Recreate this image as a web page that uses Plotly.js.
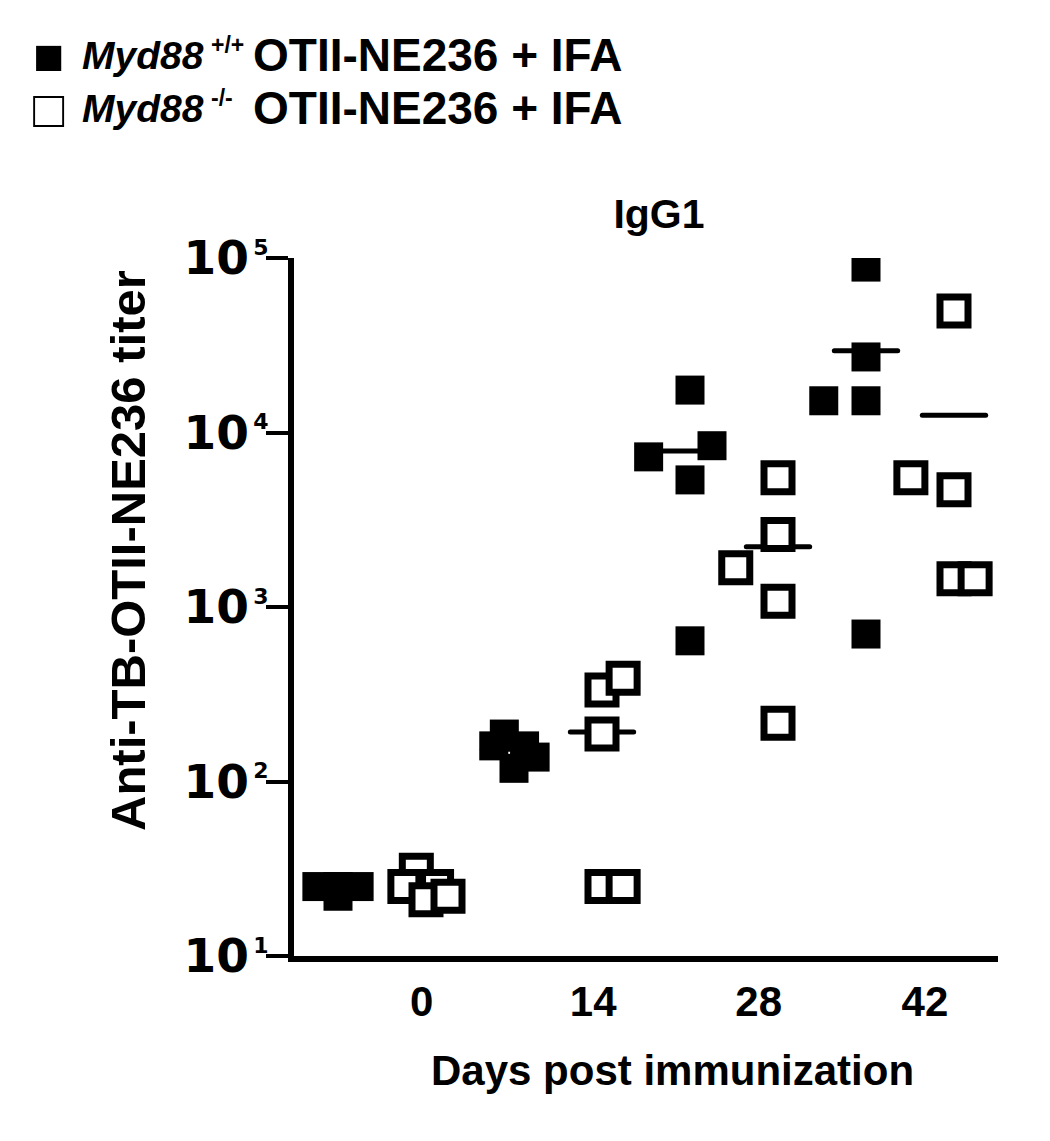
<!DOCTYPE html>
<html>
<head>
<meta charset="utf-8">
<script src="https://cdn.plot.ly/plotly-3.0.1.min.js"></script>
<style>
  html, body { margin: 0; padding: 0; background: #fff; }
  #chart { width: 1050px; height: 1141px; }
</style>
</head>
<body>
<div id="chart"></div>
<script>
// IgG1 titers, 5 mice per group
const days = [0, 14, 28, 42];
const wtTiter = [
  [25, 25, 25, 25, 22],
  [187, 160, 160, 138, 119],
  [17500, 7250, 8400, 5350, 640],
  [88700, 27100, 15200, 15200, 700],
];
const koTiter = [
  [31, 25, 25, 21, 22],
  [335, 390, 187, 25, 25],
  [5500, 2600, 1680, 1080, 216],
  [49700, 5500, 4700, 1450, 1450],
];
// sideways scatter of each point inside its column (column widths)
const wtJitter = [
  [-0.24, 0, 0.24, 0, 0],
  [-0.11, -0.23, 0.12, 0.24, 0],
  [0, -0.47, 0.25, 0, 0],
  [0, 0, -0.48, 0, 0],
];
const koJitter = [
  [-0.11, -0.24, 0.12, 0, 0.25],
  [0, 0.24, 0, 0, 0.24],
  [0, 0, -0.48, 0, 0],
  [0, -0.49, 0, 0, 0.24],
];
const yTickVals = [10, 100, 1000, 10000, 100000];
const yTickExp = [1, 2, 3, 4, 5];
// day labels sit a little left of the column pairs in the original
const dayTickPos = [0.95, 2.9, 4.78, 6.67];
const groupLabels = ["+/+", "-/-"];

const BOLD = "Liberation Sans, Arial, sans-serif";
const MEAN_HALF = 0.36;

// plot area in page pixels, used to place free text
const PLOT = { left: 294, right: 998, top: 258, bottom: 956 };
const px = (x) => (x - PLOT.left) / (PLOT.right - PLOT.left);
const py = (y) => (PLOT.bottom - y) / (PLOT.bottom - PLOT.top);

function columnPoints(titers, jitter, slotOffset) {
  const x = [];
  const y = [];
  titers.forEach((vals, i) => {
    vals.forEach((v, j) => {
      x.push(2 * i + slotOffset + jitter[i][j]);
      y.push(v);
    });
  });
  return { x, y };
}

function meanLines(titers, slotOffset) {
  const x = [];
  const y = [];
  titers.forEach((vals, i) => {
    const mean = vals.reduce((s, v) => s + v, 0) / vals.length;
    const c = 2 * i + slotOffset;
    x.push(c - MEAN_HALF, c + MEAN_HALF, null);
    y.push(mean, mean, null);
  });
  return { x, y };
}

const wt = columnPoints(wtTiter, wtJitter, 0);
const ko = columnPoints(koTiter, koJitter, 1);
const wtMean = meanLines(wtTiter, 0);
const koMean = meanLines(koTiter, 1);

const traces = [
  {
    x: wtMean.x.concat(koMean.x), y: wtMean.y.concat(koMean.y),
    type: "scatter", mode: "lines",
    line: { color: "#000", width: 5 },
    hoverinfo: "skip",
  },
  {
    x: wt.x, y: wt.y, type: "scatter", mode: "markers",
    name: "Myd88 +/+",
    marker: { symbol: "square", size: 29, color: "#000", line: { width: 0 } },
  },
  {
    x: ko.x, y: ko.y, type: "scatter", mode: "markers",
    name: "Myd88 -/-",
    marker: { symbol: "square", size: 28, color: "#fff", line: { color: "#000", width: 7 } },
  },
];

const textFont = (size) => ({ family: BOLD, size, color: "#000", weight: "bold" });

function note(text, x, y, size, extra) {
  return Object.assign({
    text, xref: "paper", yref: "paper", x: px(x), y: py(y),
    xanchor: "left", yanchor: "middle", showarrow: false,
    font: textFont(size),
  }, extra || {});
}

// hand-made key: square glyph, italic gene name, genotype, construct
const keyNotes = [];
["■", "□"].forEach((glyph, i) => {
  const rowY = 55 + i * 53;
  keyNotes.push(
    note(glyph, 31, rowY + 1, 52, { font: { family: "Liberation Sans, DejaVu Sans", size: 52, color: "#000" } }),
    note("<i>Myd88</i>", 80, rowY, 39),
    note(groupLabels[i], 209, rowY - 10, 23),
    note("OTII-NE236 + IFA", 251, rowY, 46),
  );
});

const layout = {
  width: 1050,
  height: 1141,
  margin: { l: PLOT.left, r: 1050 - PLOT.right, t: PLOT.top, b: 1141 - PLOT.bottom },
  paper_bgcolor: "#fff",
  plot_bgcolor: "#fff",
  showlegend: false,
  title: {
    text: "IgG1",
    font: textFont(41),
    xref: "container", yref: "container",
    x: 659 / 1050, xanchor: "center",
    y: 1 - 214 / 1141, yanchor: "middle",
  },
  xaxis: {
    range: [-0.5, 7.5],
    showgrid: false, zeroline: false,
    showline: true, linewidth: 6, linecolor: "#000",
    ticks: "",
    tickvals: dayTickPos,
    ticktext: days.map(String),
    tickfont: textFont(42),
    ticklabelstandoff: 4,
  },
  yaxis: {
    type: "log",
    range: [1, 5],
    showgrid: false, zeroline: false,
    showline: true, linewidth: 6, linecolor: "#000",
    ticks: "outside", ticklen: 22, tickwidth: 4, tickcolor: "#000",
    tickvals: yTickVals,
    ticktext: yTickExp.map((e) => `10<sup><span style="font-size:22px">\u2009${e}</span></sup>`),
    tickfont: { family: "DejaVu Sans, sans-serif", size: 47, color: "#000", weight: "bold" },
    ticklabelstandoff: -12,
  },
  annotations: keyNotes.concat([
    note("Anti-TB-OTII-NE236 titer", 128, 551, 49, { xanchor: "center", textangle: -90 }),
    note("Days post immunization", 672, 1070, 42, { xanchor: "center" }),
  ]),
};

Plotly.newPlot("chart", traces, layout, { staticPlot: true, displayModeBar: false }).then((gd) => {
  // mean bars have rounded ends in the original
  gd.querySelectorAll(".scatterlayer .js-line").forEach((path) => {
    path.style.strokeLinecap = "round";
  });
});
</script>
</body>
</html>
